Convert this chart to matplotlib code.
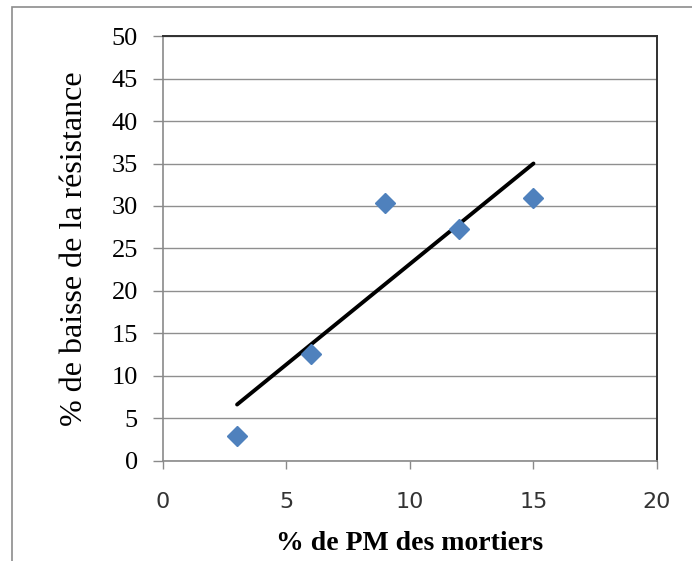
import numpy as np
import matplotlib.pyplot as plt
from matplotlib.patches import Rectangle

# Percentage of PM in mortars vs. loss of strength
pm_percent = [3, 6, 9, 12, 15]
strength_drop = [2.9, 12.6, 30.3, 27.3, 31.0]

x_ticks = [0, 5, 10, 15, 20]
y_ticks = [0, 5, 10, 15, 20, 25, 30, 35, 40, 45, 50]

fig = plt.figure(figsize=(6.92, 5.61), dpi=100)
ax = fig.add_axes([0.2355, 0.1783, 0.7139, 0.7575])

# outer frame of the chart
fig.patches.append(Rectangle((12 / 692, -0.1), 1.2, 1.1 - 7 / 561,
                             transform=fig.transFigure, fill=False,
                             edgecolor='#8c8c8c', linewidth=1.2))

ax.set_xlim(0, 20)
ax.set_ylim(0, 50)
ax.set_xticks(x_ticks)
ax.set_yticks(y_ticks)
ax.yaxis.grid(True, color='#8f8f8f', linewidth=1.0)
ax.set_axisbelow(True)

# linear trend line across the data range
slope, intercept = np.polyfit(pm_percent, strength_drop, 1)
xs = np.array([min(pm_percent), max(pm_percent)])
ax.plot(xs, slope * xs + intercept, color='black', linewidth=2.8,
        solid_capstyle='round', zorder=3)

ax.plot(pm_percent, strength_drop, linestyle='none', marker='D',
        markersize=10, color='#4f81bd', markeredgecolor='#4f81bd', zorder=4)

for side in ['left', 'bottom']:
    ax.spines[side].set_color('#8a8a8a')
    ax.spines[side].set_linewidth(1.2)
for side in ['top', 'right']:
    ax.spines[side].set_color('#303030')
    ax.spines[side].set_linewidth(1.4)

ax.tick_params(axis='y', direction='out', length=7, width=1, color='#8a8a8a',
               pad=11, labelsize=19)
ax.tick_params(axis='x', direction='out', length=6, width=1, color='#8a8a8a',
               pad=16, labelsize=16, labelcolor='#333333')
for lab in ax.get_yticklabels():
    lab.set_fontfamily('Liberation Serif')
for lab in ax.get_xticklabels():
    lab.set_fontfamily('DejaVu Sans')

fig.text(0.5925, 0.031, '% de PM des mortiers', ha='center', va='center',
         family='Liberation Serif', fontsize=20, fontweight='bold')
fig.text(0.107, 0.557, '% de baisse de la résistance', ha='center',
         va='center', rotation=90, family='Liberation Serif', fontsize=23)

fig.savefig('out.png', dpi=100)
